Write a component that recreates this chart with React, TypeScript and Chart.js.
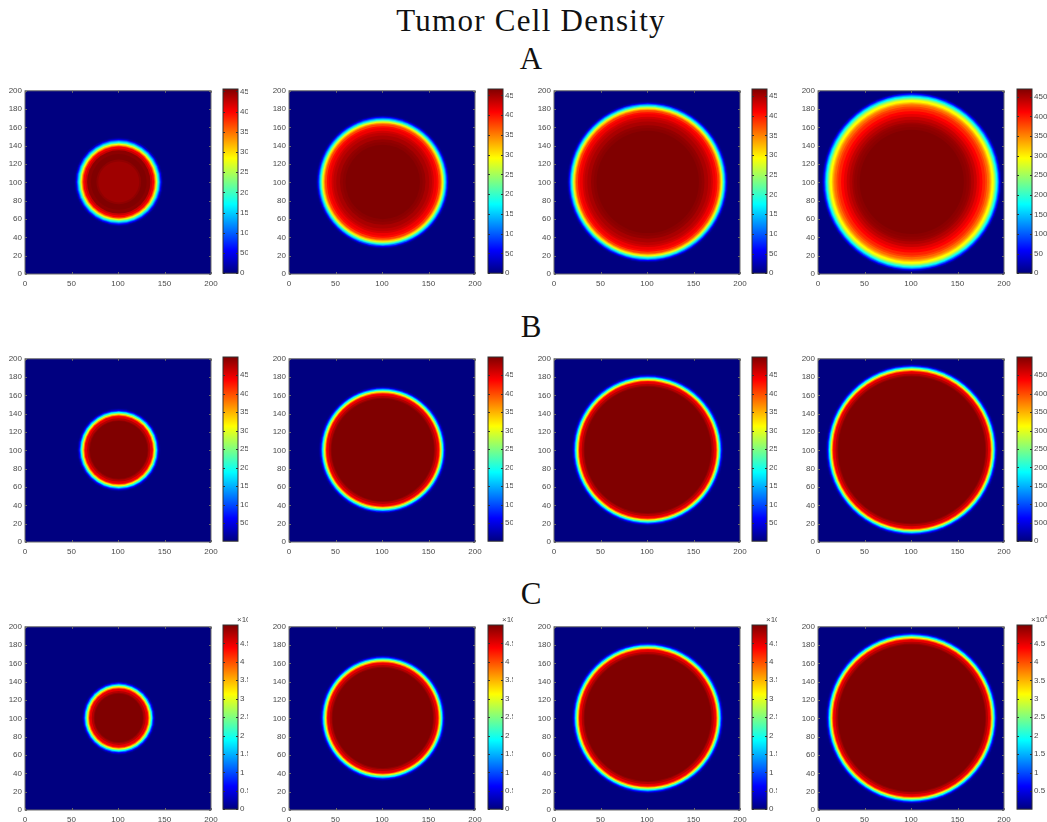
import React, { useEffect, useRef } from "react";
import { Chart, registerables } from "chart.js";

Chart.register(...registerables);

const CX = 100.8;
const CY = 100.5;
const FONT = '"Liberation Sans", Arial, sans-serif';
const TEXT = "#4a4a4a";

// Jet colour stops: position and rgb
const JET_POS = [0, 0.125, 0.375, 0.625, 0.875, 1];
const JET_RGB = [
  [0, 0, 128],
  [0, 0, 255],
  [0, 255, 255],
  [255, 255, 0],
  [255, 0, 0],
  [128, 0, 0],
];

const X_TICKS = [0, 50, 100, 150, 200];
const Y_TICKS = [0, 20, 40, 60, 80, 100, 120, 140, 160, 180, 200];

const A_TICKS = [0, 50, 100, 150, 200, 250, 300, 350, 400, 450];
const B_TICKS = [500, 1000, 1500, 2000, 2500, 3000, 3500, 4000, 4500];
const B4_TICKS = [0, 500, 1000, 1500, 2000, 2500, 3000, 3500, 4000, 4500];
const C_TICKS = [0, 5000, 10000, 15000, 20000, 25000, 30000, 35000, 40000, 45000];
const C4_TICKS = [5000, 10000, 15000, 20000, 25000, 30000, 35000, 40000, 45000];

// Ring radii (outer to inner) and density at each ring
const A1_R = [48, 47, 46, 45, 44, 43, 42, 41, 40, 39, 38, 36, 34, 30, 26, 24, 22];
const A1_V = [5, 23, 57, 100, 146, 187, 233, 278, 324, 369, 404, 424, 451, 456, 456, 449, 442];
const A2_R = [72, 71, 70, 69, 68, 67, 66, 65, 64, 63, 62, 60, 58, 55, 53, 50, 46, 43, 40];
const A2_V = [5, 23, 58, 103, 149, 191, 238, 280, 317, 350, 377, 403, 415, 429, 438, 447, 457, 461, 466];
const A3_R = [87, 86, 85, 84, 83, 82, 81, 80, 79, 78, 77, 75, 73, 70, 68, 65, 61, 58, 55];
const A3_V = [5, 23, 59, 103, 150, 192, 239, 281, 318, 351, 379, 405, 417, 431, 440, 449, 459, 463, 468];
const A4_R = [97, 96, 95, 94, 93, 92, 91, 90, 89, 88, 86, 85, 84, 83, 81, 79, 76, 73, 70, 67, 64, 62, 59, 56];
const A4_V = [5, 28, 59, 99, 141, 176, 207, 240, 268, 294, 315, 334, 348, 362, 381, 395, 411, 423, 437, 447, 456, 461, 465, 470];

const B1_R = [45, 44, 43, 42, 41, 40, 39, 38, 37, 36, 34, 32, 31];
const B1_V = [50, 250, 625, 1200, 1875, 2450, 3050, 3650, 4300, 4500, 4750, 4900, 4995];
const B2_R = [69, 68, 67, 66, 65, 64, 63, 62, 61, 60, 58, 56, 55];
const B2_V = [50, 250, 625, 1200, 1875, 2450, 3050, 3650, 4300, 4500, 4750, 4900, 4995];
const B3_R = [82, 81, 80, 79, 78, 77, 76, 75, 74, 73, 71, 69, 68];
const B3_V = [50, 250, 625, 1200, 1875, 2450, 3050, 3650, 4300, 4500, 4750, 4900, 4995];
const B4_R = [93, 92, 91, 90, 89, 88, 87, 86, 85, 84, 82, 80, 79];
const B4_V = [50, 250, 625, 1200, 1875, 2450, 3050, 3650, 4300, 4500, 4750, 4900, 4995];

const C1_R = [40, 39, 38, 37, 36, 35, 34, 33, 32, 31, 29, 27, 26];
const C1_V = [500, 2500, 6250, 12000, 18750, 24500, 30500, 36500, 43000, 45000, 47500, 49000, 50000];
const C2_R = [68, 67, 66, 65, 64, 63, 62, 61, 60, 59, 57, 55, 54];
const C2_V = [500, 2500, 6250, 12000, 18750, 24500, 30500, 36500, 43000, 45000, 47500, 49000, 50000];
const C3_R = [82, 81, 80, 79, 78, 77, 76, 75, 74, 73, 71, 69, 68];
const C3_V = [500, 2500, 6250, 12000, 18750, 24500, 30500, 36500, 43000, 45000, 47500, 49000, 50000];
const C4_R = [93, 92, 91, 90, 89, 88, 87, 86, 85, 84, 82, 80, 79];
const C4_V = [500, 2500, 6250, 12000, 18750, 24500, 30500, 36500, 43000, 45000, 47500, 49000, 50000];

const ROW_TITLES = ["A", "B", "C"];
const MAIN_TITLE = "Tumor Cell Density";

const PANELS = [
  [
    { r: A1_R, v: A1_V, min: 0, max: 456, ticks: A_TICKS, scale: 1 },
    { r: A2_R, v: A2_V, min: 0, max: 466, ticks: A_TICKS, scale: 1 },
    { r: A3_R, v: A3_V, min: 0, max: 468, ticks: A_TICKS, scale: 1 },
    { r: A4_R, v: A4_V, min: 0, max: 470, ticks: A_TICKS, scale: 1 },
  ],
  [
    { r: B1_R, v: B1_V, min: 10, max: 4995, ticks: B_TICKS, scale: 1 },
    { r: B2_R, v: B2_V, min: 10, max: 4995, ticks: B_TICKS, scale: 1 },
    { r: B3_R, v: B3_V, min: 10, max: 4995, ticks: B_TICKS, scale: 1 },
    { r: B4_R, v: B4_V, min: 0, max: 4995, ticks: B4_TICKS, scale: 1 },
  ],
  [
    { r: C1_R, v: C1_V, min: 0, max: 50000, ticks: C_TICKS, scale: 10000 },
    { r: C2_R, v: C2_V, min: 0, max: 50000, ticks: C_TICKS, scale: 10000 },
    { r: C3_R, v: C3_V, min: 0, max: 50000, ticks: C_TICKS, scale: 10000 },
    { r: C4_R, v: C4_V, min: 70, max: 50000, ticks: C4_TICKS, scale: 10000 },
  ],
];

const PLOT_X = [25, 289, 554, 818];
const PLOT_Y = [89, 357, 625];
const PLOT_W = 186;
const PLOT_H = 185;
const BAR_X = [223, 488, 752, 1017];
const BAR_W = 15;
const LABEL_ROOM = [10, 10, 10, 15];
const SOFTEN = "blur(0.45px)";

function jet(t: number): string {
  const v = Math.min(1, Math.max(0, t));
  let i = 0;
  while (i < JET_POS.length - 2 && v > JET_POS[i + 1]) i++;
  const f = (v - JET_POS[i]) / (JET_POS[i + 1] - JET_POS[i]);
  const c = JET_RGB[i].map((a, k) => Math.round(a + (JET_RGB[i + 1][k] - a) * f));
  return `rgb(${c[0]},${c[1]},${c[2]})`;
}

const heatFrame = {
  id: "heatFrame",
  beforeDatasetsDraw(chart: any) {
    const { ctx, chartArea: a } = chart;
    ctx.save();
    ctx.fillStyle = jet(0);
    ctx.fillRect(a.left, a.top, a.right - a.left, a.bottom - a.top);
    ctx.restore();
  },
  afterDatasetsDraw(chart: any) {
    const { ctx, chartArea: a, scales } = chart;
    ctx.save();
    ctx.strokeStyle = "#6a6a6a";
    ctx.lineWidth = 1;
    ctx.beginPath();
    scales.x.ticks.forEach((t: any) => {
      const p = Math.round(scales.x.getPixelForValue(t.value)) + 0.5;
      ctx.moveTo(p, a.bottom);
      ctx.lineTo(p, a.bottom - 2);
      ctx.moveTo(p, a.top);
      ctx.lineTo(p, a.top + 2);
    });
    scales.y.ticks.forEach((t: any) => {
      const p = Math.round(scales.y.getPixelForValue(t.value)) + 0.5;
      ctx.moveTo(a.left, p);
      ctx.lineTo(a.left + 2, p);
      ctx.moveTo(a.right, p);
      ctx.lineTo(a.right - 2, p);
    });
    ctx.stroke();
    ctx.strokeRect(a.left, a.top, a.right - a.left, a.bottom - a.top);
    ctx.restore();
  },
};

const barFrame = {
  id: "barFrame",
  afterDatasetsDraw(chart: any, _args: any, opts: any) {
    const { ctx, chartArea: a, scales } = chart;
    ctx.save();
    ctx.strokeStyle = "#303030";
    ctx.lineWidth = 1;
    ctx.beginPath();
    scales.y.ticks.forEach((t: any) => {
      const p = Math.round(scales.y.getPixelForValue(t.value)) + 0.5;
      ctx.moveTo(a.left, p);
      ctx.lineTo(a.left + 2, p);
      ctx.moveTo(a.right, p);
      ctx.lineTo(a.right - 2, p);
    });
    ctx.stroke();
    ctx.strokeRect(a.left, a.top, a.right - a.left, a.bottom - a.top);
    if (opts.exponent) {
      ctx.fillStyle = TEXT;
      ctx.textBaseline = "alphabetic";
      ctx.font = `8px ${FONT}`;
      ctx.fillText("×10", a.right - 1, a.top - 3);
      const w = ctx.measureText("×10").width;
      ctx.font = `5px ${FONT}`;
      ctx.fillText("4", a.right - 1 + w, a.top - 6);
    }
    ctx.restore();
  },
};

function Heat({ panel, col, row }: any) {
  const ref = useRef<HTMLCanvasElement>(null);
  useEffect(() => {
    const points = panel.r.map((r: number, i: number) => ({ x: CX, y: CY, r, v: panel.v[i] }));
    const chart = new Chart(ref.current!, {
      type: "scatter",
      data: {
        datasets: [
          {
            data: points,
            showLine: false,
            pointStyle: "circle",
            pointBorderWidth: 0,
            pointRadius: (c: any) => {
              const s = c.chart.scales.x;
              return Math.abs(s.getPixelForValue(c.raw.r) - s.getPixelForValue(0));
            },
            pointBackgroundColor: (c: any) => jet(c.raw.v / panel.max),
          },
        ],
      },
      options: {
        animation: false,
        responsive: false,
        events: [],
        layout: { padding: { top: 6, right: 12, left: 0, bottom: 0 } },
        plugins: { legend: { display: false }, tooltip: { enabled: false } },
        scales: {
          x: {
            type: "linear",
            min: 0,
            max: 200,
            grid: { display: false, drawTicks: false },
            border: { display: false },
            afterBuildTicks: (s: any) => {
              s.ticks = X_TICKS.map((value) => ({ value }));
            },
            afterFit: (s: any) => {
              s.height = 14;
            },
            ticks: { autoSkip: false, maxRotation: 0, padding: 5, color: TEXT, font: { family: FONT, size: 8 } },
          },
          y: {
            type: "linear",
            min: 0,
            max: 200,
            grid: { display: false, drawTicks: false },
            border: { display: false },
            afterBuildTicks: (s: any) => {
              s.ticks = Y_TICKS.map((value) => ({ value }));
            },
            afterFit: (s: any) => {
              s.width = 24;
            },
            ticks: { autoSkip: false, padding: 3, color: TEXT, font: { family: FONT, size: 8 } },
          },
        },
      } as any,
      plugins: [heatFrame],
    } as any);
    return () => chart.destroy();
  }, []);
  return (
    <canvas
      ref={ref}
      width={24 + PLOT_W + 12}
      height={6 + PLOT_H + 14}
      style={{ position: "absolute", left: PLOT_X[col] - 24, top: PLOT_Y[row] - 6, width: 24 + PLOT_W + 12, height: 6 + PLOT_H + 14, filter: SOFTEN }}
    />
  );
}

function Bar({ panel, col, row }: any) {
  const ref = useRef<HTMLCanvasElement>(null);
  const room = LABEL_ROOM[col];
  const top = 14;
  useEffect(() => {
    const chart = new Chart(ref.current!, {
      type: "bar",
      data: {
        labels: ["density"],
        datasets: [
          {
            data: [[panel.min, panel.max]],
            barPercentage: 1,
            categoryPercentage: 1,
            borderWidth: 0,
            backgroundColor: (c: any) => {
              const { ctx, chartArea } = c.chart;
              if (!chartArea) return jet(0);
              const g = ctx.createLinearGradient(0, chartArea.bottom, 0, chartArea.top);
              JET_POS.forEach((p) => g.addColorStop(p, jet(p)));
              return g;
            },
          },
        ],
      },
      options: {
        animation: false,
        responsive: false,
        events: [],
        layout: { padding: { top, left: 1, right: 0, bottom: 6 } },
        plugins: { legend: { display: false }, tooltip: { enabled: false }, barFrame: { exponent: panel.scale > 1 } },
        scales: {
          x: { display: false },
          y: {
            position: "right",
            type: "linear",
            min: panel.min,
            max: panel.max,
            grid: { display: false, drawTicks: false },
            border: { display: false },
            afterBuildTicks: (s: any) => {
              s.ticks = panel.ticks.map((value: number) => ({ value }));
            },
            afterFit: (s: any) => {
              s.width = room;
            },
            ticks: {
              autoSkip: false,
              padding: 2,
              color: TEXT,
              font: { family: FONT, size: 8 },
              callback: (v: number) => String(v / panel.scale),
            },
          },
        },
      } as any,
      plugins: [barFrame],
    } as any);
    return () => chart.destroy();
  }, []);
  const w = 1 + BAR_W + room;
  const h = top + PLOT_H + 6;
  return (
    <canvas
      ref={ref}
      width={w}
      height={h}
      style={{ position: "absolute", left: BAR_X[col] - 1, top: PLOT_Y[row] - top, width: w, height: h, filter: SOFTEN }}
    />
  );
}

const headingStyle: React.CSSProperties = {
  position: "absolute",
  left: 15,
  width: 1032,
  textAlign: "center",
  fontFamily: '"Liberation Serif", serif',
  fontSize: 31,
  lineHeight: "36px",
  color: "#111",
};

export default function App() {
  return (
    <div style={{ position: "fixed", left: 0, top: 0, width: 1047, height: 822, overflow: "hidden", background: "#fff" }}>
      <div style={{ ...headingStyle, top: 3, letterSpacing: 1.27 }}>{MAIN_TITLE}</div>
      <div style={{ ...headingStyle, top: 41 }}>{ROW_TITLES[0]}</div>
      <div style={{ ...headingStyle, top: 309 }}>{ROW_TITLES[1]}</div>
      <div style={{ ...headingStyle, top: 576 }}>{ROW_TITLES[2]}</div>
      {PANELS.map((rowPanels, row) =>
        rowPanels.map((panel, col) => (
          <React.Fragment key={`${row}-${col}`}>
            <Heat panel={panel} col={col} row={row} />
            <Bar panel={panel} col={col} row={row} />
          </React.Fragment>
        ))
      )}
    </div>
  );
}
